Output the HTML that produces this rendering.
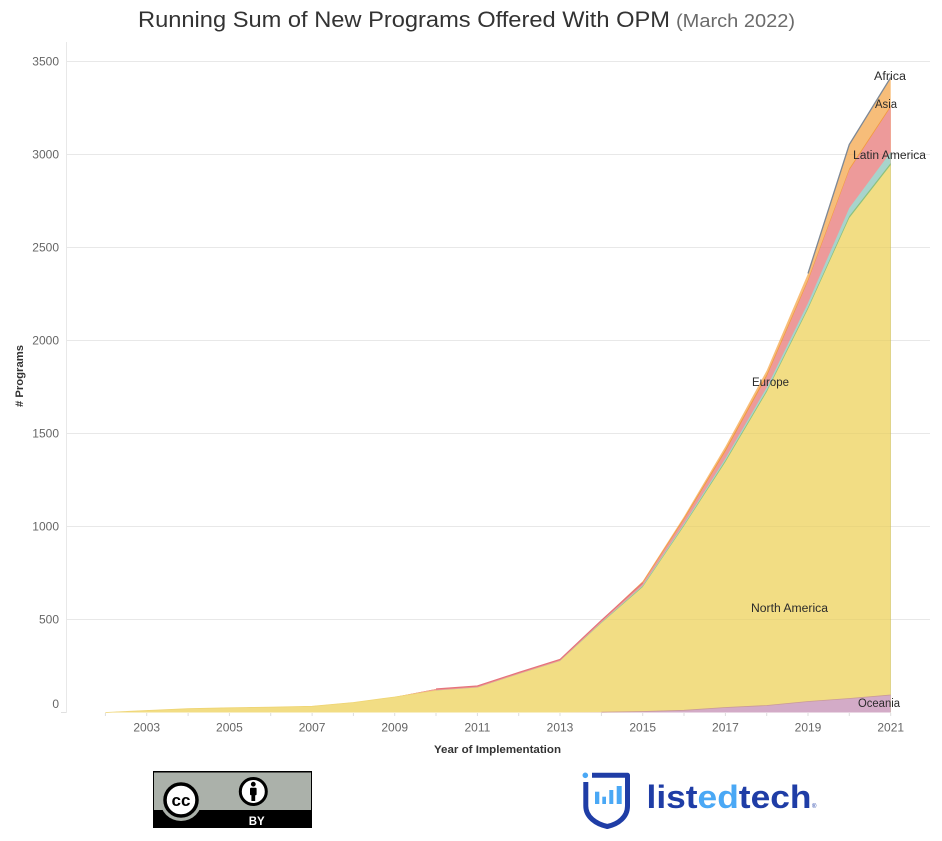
<!DOCTYPE html>
<html>
<head>
<meta charset="utf-8">
<style>
  html,body{margin:0;padding:0;background:#fff;}
  svg{display:block;}
  text{font-family:"Liberation Sans", sans-serif;}
</style>
</head>
<body>
<svg width="942" height="841" viewBox="0 0 942 841" xmlns="http://www.w3.org/2000/svg">
  <rect x="0" y="0" width="942" height="841" fill="#ffffff"/>

  <!-- Title -->
  <text x="138" y="27" font-size="22" fill="#333333" textLength="532" lengthAdjust="spacingAndGlyphs">Running Sum of New Programs Offered With OPM</text>
  <text x="676" y="27" font-size="18" fill="#6b6b6b" textLength="119" lengthAdjust="spacingAndGlyphs">(March 2022)</text>

  <!-- Gridlines (behind) -->
  <g stroke="#f0f0f0" stroke-width="1">
    <line x1="67" y1="61.5" x2="930" y2="61.5"/>
    <line x1="67" y1="154.5" x2="930" y2="154.5"/>
    <line x1="67" y1="247.5" x2="930" y2="247.5"/>
    <line x1="67" y1="340.5" x2="930" y2="340.5"/>
    <line x1="67" y1="433.5" x2="930" y2="433.5"/>
    <line x1="67" y1="526.5" x2="930" y2="526.5"/>
    <line x1="67" y1="619.5" x2="930" y2="619.5"/>
  </g>
  <!-- Y axis line -->
  <line x1="66.5" y1="42" x2="66.5" y2="712.5" stroke="#e8e8e8" stroke-width="1"/>
  <line x1="61" y1="712.5" x2="66.5" y2="712.5" stroke="#e0e0e0" stroke-width="1"/>

  <!-- Areas (painter order: top layer first) -->
  <!-- Orange (light) -->
  <polygon fill="#f7bd79" points="105.4,712.5 146.7,710.5 188.1,708.7 229.4,707.8 270.7,707.2 312.1,706.3 353.4,702.5 394.7,697 436.0,689 477.4,686 518.7,672.5 560.0,659.5 601.4,620.1 642.7,581.2 684.0,516.5 725.4,446.5 766.7,370.5 808.0,273.5 849.3,144.5 890.7,77.5 890.7,712.5"/>
  <!-- Orange line band -->
  <polygon fill="#f39a3e" points="105.4,712.5 146.7,710.5 188.1,708.7 229.4,707.8 270.7,707.2 312.1,706.3 353.4,702.5 394.7,697 436.0,689 477.4,686 518.7,672.5 560.0,659.5 601.4,620.1 642.7,581.7 684.0,518 725.4,449.5 766.7,374.5 808.0,279.5 849.3,168.5 890.7,105.5 890.7,712.5"/>
  <!-- Red / pink -->
  <polygon fill="#ed9a9a" points="105.4,712.5 146.7,710.5 188.1,708.7 229.4,707.8 270.7,707.2 312.1,706.3 353.4,702.5 394.7,697 436.0,689 477.4,686 518.7,672.5 560.0,659.5 601.4,620.4 642.7,582.9 684.0,519.5 725.4,451.5 766.7,376.5 808.0,281 849.3,170 890.7,107 890.7,712.5"/>
  <polyline fill="none" stroke="#e5747a" stroke-width="1.2" points="436.0,689 477.4,686 518.7,672.5 560.0,659.5 601.4,620.4 642.7,582.9"/>
  <!-- Teal -->
  <polygon fill="#a7d4cc" points="105.4,712.5 146.7,710.5 188.1,708.7 229.4,707.8 270.7,707.2 312.1,706.3 353.4,702.5 394.7,697 436.0,690.5 477.4,687.5 518.7,674 560.0,661 601.4,622.2 642.7,585.4 684.0,523.5 725.4,458.5 766.7,387.5 808.0,303 849.3,208 890.7,152 890.7,712.5"/>
  <!-- Green thin -->
  <polygon fill="#8cc17e" points="105.4,712.5 146.7,710.5 188.1,708.7 229.4,707.8 270.7,707.2 312.1,706.3 353.4,702.5 394.7,697 436.0,690.5 477.4,687.5 518.7,674 560.0,661 601.4,622.6 642.7,586.2 684.0,525 725.4,460.5 766.7,390.5 808.0,307.5 849.3,216 890.7,163 890.7,712.5"/>
  <!-- Yellow: North America -->
  <polygon fill="#f2dd84" points="105.4,712.5 146.7,710.5 188.1,708.7 229.4,707.8 270.7,707.2 312.1,706.3 353.4,702.5 394.7,697 436.0,690.5 477.4,687.5 518.7,674 560.0,661 601.4,623 642.7,587 684.0,526 725.4,462 766.7,392 808.0,309 849.3,218 890.7,165 890.7,712.5"/>
  <polyline fill="none" stroke="#efd574" stroke-width="0.8" points="105.4,712.5 146.7,710.5 188.1,708.7 229.4,707.8 270.7,707.2 312.1,706.3 353.4,702.5 394.7,697 436.0,690.5"/>
  <!-- Purple: Oceania -->
  <polygon fill="#d3abc7" points="105.4,712.5 560.0,712.5 601.4,712.2 642.7,711.5 684.0,710.3 725.4,707.5 766.7,705.5 808.0,701.5 849.3,698.5 890.7,695 890.7,712.5"/>
  <polyline fill="none" stroke="#c99a98" stroke-width="0.8" points="601.4,712.2 642.7,711.5 684.0,710.3 725.4,707.5 766.7,705.5 808.0,701.5 849.3,698.5 890.7,695"/>
  <!-- Grey top line (Africa) -->
  <polyline fill="none" stroke="#7d8896" stroke-width="1.3" stroke-linejoin="round" points="808.0,273.5 849.3,144.5 890.7,77.5"/>

  <!-- Gridlines faintly over areas -->
  <g stroke="rgba(0,0,0,0.03)" stroke-width="1">
    <line x1="67" y1="61.5" x2="930" y2="61.5"/>
    <line x1="67" y1="154.5" x2="930" y2="154.5"/>
    <line x1="67" y1="247.5" x2="930" y2="247.5"/>
    <line x1="67" y1="340.5" x2="930" y2="340.5"/>
    <line x1="67" y1="433.5" x2="930" y2="433.5"/>
    <line x1="67" y1="526.5" x2="930" y2="526.5"/>
    <line x1="67" y1="619.5" x2="930" y2="619.5"/>
  </g>

  <!-- X ticks -->
  <g stroke="#dddddd" stroke-width="1">
    <line x1="105.4" y1="713" x2="105.4" y2="716"/>
    <line x1="146.7" y1="713" x2="146.7" y2="716"/>
    <line x1="188.1" y1="713" x2="188.1" y2="716"/>
    <line x1="229.4" y1="713" x2="229.4" y2="716"/>
    <line x1="270.7" y1="713" x2="270.7" y2="716"/>
    <line x1="312.1" y1="713" x2="312.1" y2="716"/>
    <line x1="353.4" y1="713" x2="353.4" y2="716"/>
    <line x1="394.7" y1="713" x2="394.7" y2="716"/>
    <line x1="436.0" y1="713" x2="436.0" y2="716"/>
    <line x1="477.4" y1="713" x2="477.4" y2="716"/>
    <line x1="518.7" y1="713" x2="518.7" y2="716"/>
    <line x1="560.0" y1="713" x2="560.0" y2="716"/>
    <line x1="601.4" y1="713" x2="601.4" y2="716"/>
    <line x1="642.7" y1="713" x2="642.7" y2="716"/>
    <line x1="684.0" y1="713" x2="684.0" y2="716"/>
    <line x1="725.4" y1="713" x2="725.4" y2="716"/>
    <line x1="766.7" y1="713" x2="766.7" y2="716"/>
    <line x1="808.0" y1="713" x2="808.0" y2="716"/>
    <line x1="849.3" y1="713" x2="849.3" y2="716"/>
    <line x1="890.7" y1="713" x2="890.7" y2="716"/>
  </g>

  <!-- Y tick labels -->
  <g font-size="12" fill="#666666" text-anchor="end">
    <text x="59" y="65.5">3500</text>
    <text x="59" y="158.5">3000</text>
    <text x="59" y="251.5">2500</text>
    <text x="59" y="344.5">2000</text>
    <text x="59" y="437.5">1500</text>
    <text x="59" y="530.5">1000</text>
    <text x="59" y="623.5">500</text>
    <text x="59" y="708">0</text>
  </g>

  <!-- X tick labels -->
  <g font-size="12" fill="#666666" text-anchor="middle">
    <text x="146.7" y="731.5">2003</text>
    <text x="229.4" y="731.5">2005</text>
    <text x="312.1" y="731.5">2007</text>
    <text x="394.7" y="731.5">2009</text>
    <text x="477.4" y="731.5">2011</text>
    <text x="560.0" y="731.5">2013</text>
    <text x="642.7" y="731.5">2015</text>
    <text x="725.4" y="731.5">2017</text>
    <text x="808.0" y="731.5">2019</text>
    <text x="890.7" y="731.5">2021</text>
  </g>

  <!-- Axis titles -->
  <text x="434" y="753" font-size="11" font-weight="bold" fill="#333333" textLength="127" lengthAdjust="spacingAndGlyphs">Year of Implementation</text>
  <text transform="translate(23,407) rotate(-90)" x="0" y="0" font-size="11" font-weight="bold" fill="#333333" textLength="62" lengthAdjust="spacingAndGlyphs"># Programs</text>

  <!-- In-chart labels -->
  <g font-size="11.5" fill="#2b2b2b">
    <text x="874" y="80" textLength="32" lengthAdjust="spacingAndGlyphs">Africa</text>
    <text x="875" y="108" textLength="22" lengthAdjust="spacingAndGlyphs">Asia</text>
    <text x="853" y="159" textLength="73" lengthAdjust="spacingAndGlyphs">Latin America</text>
    <text x="752" y="386" textLength="37" lengthAdjust="spacingAndGlyphs">Europe</text>
    <text x="751" y="612" textLength="77" lengthAdjust="spacingAndGlyphs">North America</text>
    <text x="858" y="707" textLength="42" lengthAdjust="spacingAndGlyphs">Oceania</text>
  </g>

  <!-- CC BY badge -->
  <g>
    <rect x="153" y="771" width="159" height="57" fill="#000000"/>
    <rect x="154" y="772.5" width="157" height="37.5" fill="#abb1aa"/>
    <circle cx="181" cy="800" r="21" fill="#abb1aa"/>
    <circle cx="181" cy="800" r="16" fill="#ffffff" stroke="#000000" stroke-width="3.5"/>
    <text x="181" y="806" font-size="17" font-weight="bold" fill="#000000" text-anchor="middle">cc</text>
    <circle cx="253.3" cy="791.5" r="13" fill="#ffffff" stroke="#000000" stroke-width="3"/>
    <circle cx="253.3" cy="784.2" r="2.4" fill="#000000"/>
    <rect x="250" y="787.8" width="6.6" height="7.5" rx="1" fill="#000000"/>
    <rect x="251.4" y="794" width="3.8" height="7" fill="#000000"/>
    <text x="256.7" y="825" font-size="11.5" font-weight="bold" fill="#ffffff" text-anchor="middle">BY</text>
  </g>

  <!-- listedtech logo -->
  <g>
    <path d="M 585.8 782 V 806 C 585.8 817 596 824 607.3 826.5 C 618.5 824 627.5 817 627.5 806 V 775.3 H 592" fill="none" stroke="#1f3da6" stroke-width="5" stroke-linejoin="round"/>
    <circle cx="585.3" cy="775.3" r="2.8" fill="#4aa8f5"/>
    <rect x="595" y="791.7" width="4.3" height="12.3" fill="#4aa8f5"/>
    <rect x="602.3" y="796.7" width="3.7" height="7.3" fill="#4aa8f5"/>
    <rect x="609.3" y="790" width="4" height="14" fill="#4aa8f5"/>
    <rect x="616.7" y="786" width="5" height="18" fill="#4aa8f5"/>
    <text x="646.5" y="808" font-size="32" font-weight="bold" textLength="165" lengthAdjust="spacingAndGlyphs"><tspan fill="#1f3da6">list</tspan><tspan fill="#4aa8f5">ed</tspan><tspan fill="#1f3da6">tech</tspan></text>
    <text x="812" y="808" font-size="6" fill="#1f3da6">®</text>
  </g>
</svg>
</body>
</html>
